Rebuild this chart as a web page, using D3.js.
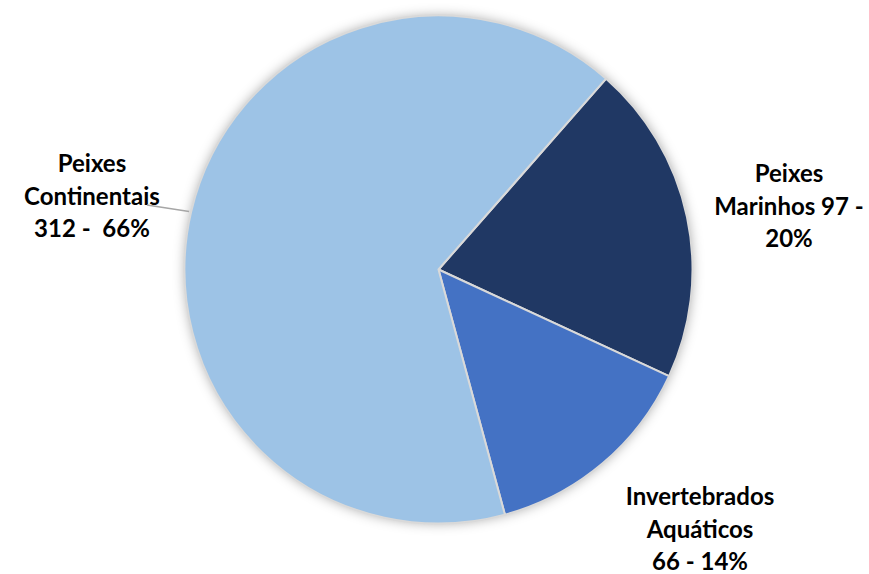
<!DOCTYPE html>
<html>
<head>
<meta charset="utf-8">
<script src="https://cdn.jsdelivr.net/npm/d3@7"></script>
<style>
  html, body { margin: 0; padding: 0; background: #fff; }
  svg { display: block; }
  text { font-family: Lato, "Open Sans", sans-serif; font-weight: 700; fill: #000; }
</style>
</head>
<body>
<svg id="chart" width="869" height="574"></svg>
<script>
// Species groups and their counts
const categories = ["Peixes Marinhos", "Invertebrados Aquáticos", "Peixes Continentais"];
const counts = [97, 66, 312];
const colors = ["#203864", "#4472C4", "#9DC3E6"];
// Label text lines per slice
const labelLines = [
  ["Peixes", "Marinhos 97 -", "20%"],
  ["Invertebrados", "Aquáticos", "66 - 14%"],
  ["Peixes", "Continentais", "312 -  66%"]
];

const width = 869, height = 574;
const cx = 438.5, cy = 269.5, radius = 254;
const firstAngle = 41.3 * Math.PI / 180;

const svg = d3.select("#chart");

// soft shadow around the pie
const defs = svg.append("defs");
const f = defs.append("filter").attr("id", "glow")
  .attr("x", "-20%").attr("y", "-20%").attr("width", "140%").attr("height", "140%");
f.append("feGaussianBlur").attr("in", "SourceAlpha").attr("stdDeviation", 6).attr("result", "b");
f.append("feFlood").attr("flood-color", "#000").attr("flood-opacity", 0.32);
f.append("feComposite").attr("in2", "b").attr("operator", "in").attr("result", "s");
const m = f.append("feMerge");
m.append("feMergeNode").attr("in", "s");
m.append("feMergeNode").attr("in", "SourceGraphic");

const data = categories.map((c, i) => ({ name: c, value: counts[i], color: colors[i], lines: labelLines[i] }));

const pie = d3.pie().sort(null).value(d => d.value)
  .startAngle(firstAngle).endAngle(firstAngle + 2 * Math.PI);
const arcs = pie(data);
const arc = d3.arc().innerRadius(0).outerRadius(radius);

const g = svg.append("g").attr("transform", `translate(${cx},${cy})`);

g.append("circle").attr("r", radius).attr("fill", "#9DC3E6").attr("filter", "url(#glow)");

g.selectAll("path.slice").data(arcs).join("path")
  .attr("class", "slice")
  .attr("d", arc)
  .attr("fill", d => d.data.color)
  .attr("stroke", "#d9d9d9")
  .attr("stroke-width", 2)
  .attr("stroke-linejoin", "round");

// label placement: distance from centre and angular nudge (degrees) per slice
const labelDist = [354.7, 374.8, 352.5];
const labelNudge = [3.1, -4.07, -2.52];
const lineH = 32.5;

arcs.forEach((a, i) => {
  const mid = (a.startAngle + a.endAngle) / 2 + labelNudge[i] * Math.PI / 180;
  const lx = Math.sin(mid) * labelDist[i];
  const ly = -Math.cos(mid) * labelDist[i];
  const t = g.append("text")
    .attr("text-anchor", "middle")
    .attr("font-size", 24)
    .attr("xml:space", "preserve")
    .style("white-space", "pre");
  const n = a.data.lines.length;
  a.data.lines.forEach((ln, k) => {
    t.append("tspan")
      .attr("x", lx)
      .attr("y", ly + (k - (n - 1) / 2) * lineH)
      .text(ln);
  });
  a.data.lx = lx; a.data.ly = ly;
});

// leader line for the large slice
const big = arcs[2];
const leaderAngle = (big.startAngle + big.endAngle) / 2;
const edge = [Math.sin(leaderAngle) * (radius + 2), -Math.cos(leaderAngle) * (radius + 2)];
g.append("line")
  .attr("x1", big.data.lx + 55).attr("y1", big.data.ly)
  .attr("x2", edge[0]).attr("y2", edge[1])
  .attr("stroke", "#a6a6a6").attr("stroke-width", 1.5);
</script>
</body>
</html>
